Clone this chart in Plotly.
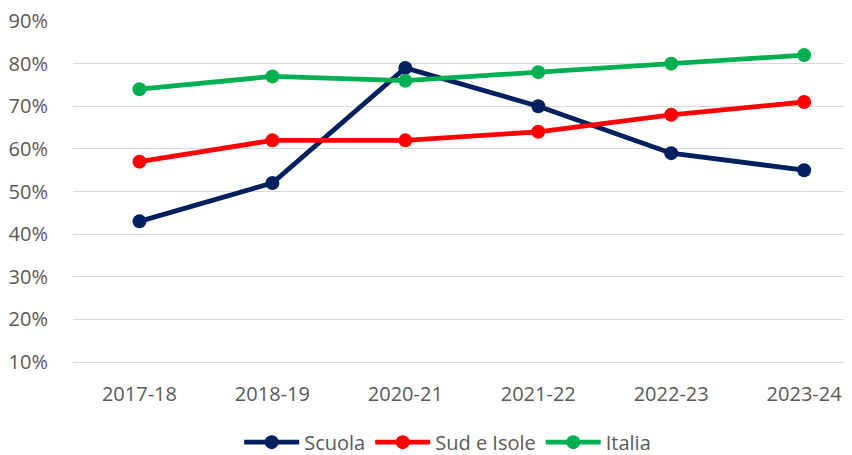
import plotly.graph_objects as go

categories = ["2017-18", "2018-19", "2020-21", "2021-22", "2022-23", "2023-24"]
scuola = [43, 52, 79, 70, 59, 55]
sud_isole = [57, 62, 62, 64, 68, 71]
italia = [74, 77, 76, 78, 80, 82]
y_ticks = [10, 20, 30, 40, 50, 60, 70, 80, 90]

series = [
    ("Scuola", scuola, "#002060"),
    ("Sud e Isole", sud_isole, "#FF0000"),
    ("Italia", italia, "#00B050"),
]

fig = go.Figure()
x_idx = list(range(len(categories)))
for name, vals, color in series:
    fig.add_trace(go.Scatter(
        x=x_idx, y=vals, name=name, mode="lines+markers",
        line=dict(color=color, width=4.8),
        marker=dict(color=color, size=14),
    ))

font = dict(family="Open Sans, Liberation Sans, sans-serif", size=20, color="#595959")

# page body has an 8px default margin, so the figure is sized to the visible area
fig.update_layout(
    width=844, height=447,
    margin=dict(l=65, r=0, t=13, b=93, autoexpand=False),
    plot_bgcolor="white", paper_bgcolor="white",
    font=font,
    showlegend=True,
    legend=dict(orientation="h", x=0.481, xanchor="center", y=-0.235, yanchor="middle",
                font=font, tracegroupgap=0, itemwidth=55),
    xaxis=dict(
        tickmode="array", tickvals=x_idx, ticktext=categories,
        range=[-0.5, 5.36], showgrid=False, zeroline=False,
        showline=True, linecolor="#D9D9D9", linewidth=1,
        ticks="outside", ticklen=14, tickcolor="rgba(0,0,0,0)",
        ticklabeloverflow="allow",
    ),
    yaxis=dict(
        range=[10, 90], tickvals=y_ticks, ticktext=[f"{v}%" for v in y_ticks],
        showgrid=True, gridcolor="#D9D9D9", gridwidth=1, zeroline=False, showline=False,
        ticks="outside", ticklen=20, tickcolor="rgba(0,0,0,0)",
        ticklabeloverflow="allow",
    ),
)

fig.write_html("out.html", config={"displayModeBar": False})
